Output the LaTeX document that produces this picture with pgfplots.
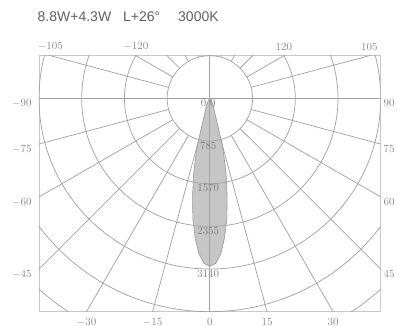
\documentclass[border=0pt]{standalone}
\usepackage{pgfplots}
\pgfplotsset{compat=1.18}
\usepackage{pgfplotstable}
\usepackage{fontspec}
\newfontfamily\titlefont{Liberation Sans}
\definecolor{gridc}{HTML}{A4A4A4}
\definecolor{framec}{HTML}{C8C8C8}
\definecolor{labc}{HTML}{8A8A8A}
\definecolor{ringlab}{HTML}{777777}
\definecolor{titlec}{HTML}{606060}
\definecolor{lobefill}{HTML}{C6C6C6}
\definecolor{lobeline}{HTML}{969696}

% angle (deg, from downward vertical) and luminous intensity (cd)
\pgfplotstableread{
a I
-50 0
-40 20
-32 60
-28 110
-24 170
-20 230
-18 320
-17 420
-16 580
-15 820
-14 1050
-12 1440
-10 1830
-8 2240
-6 2580
-4 2870
-2 3040
0 3090
2 3040
4 2870
6 2580
8 2240
10 1830
12 1440
14 1050
15 820
16 580
17 420
18 320
20 230
24 170
28 110
32 60
40 20
50 0
}\lobe

\begin{document}
\begin{tikzpicture}
\path[use as bounding box] (0pt,0pt) rectangle (397pt,326pt);
\begin{axis}[
  at={(39pt,14.3pt)}, anchor=south west,
  scale only axis, width=341.7pt, height=256pt,
  xmin=-3140, xmax=3140, ymin=-3925, ymax=785,
  ticks=none,
  axis line style={draw=framec, line width=0.9pt},
  clip=true,
]
\addplot[fill=lobefill, draw=lobeline, line width=0.6pt]
  table[x expr={\thisrow{I}*sin(\thisrow{a})}, y expr={-\thisrow{I}*cos(\thisrow{a})}] {\lobe};
% radial lines
\pgfplotsinvokeforeach{15,30,45,60,75,105,120,135,150,165,195,210,225,240,255,285,300,315,330,345}{
  \draw[gridc, line width=0.75pt] (axis cs:{785*sin(#1)},{-785*cos(#1)}) -- (axis cs:{8000*sin(#1)},{-8000*cos(#1)});
}
\draw[gridc, line width=0.75pt] (axis cs:0,-8000) -- (axis cs:0,8000);
\draw[gridc, line width=0.75pt] (axis cs:-8000,0) -- (axis cs:8000,0);
% rings
\pgfplotsinvokeforeach{785,1570,2355,3140,3925,4710}{
  \draw[gridc, line width=0.75pt] (axis cs:0,0) circle[radius=#1];
}
% ring labels
\node[anchor=north, inner sep=0.5pt, text=ringlab, font=\fontsize{11}{12}\selectfont] at (axis cs:-30,0) {0\hspace{4pt}0};
\node[anchor=north, inner sep=0.5pt, text=ringlab, font=\fontsize{11}{12}\selectfont] at (axis cs:-30,-785) {785};
\node[anchor=north, inner sep=0.5pt, text=ringlab, font=\fontsize{11}{12}\selectfont] at (axis cs:-30,-1570) {1570};
\node[anchor=north, inner sep=0.5pt, text=ringlab, font=\fontsize{11}{12}\selectfont] at (axis cs:-30,-2355) {2355};
\node[anchor=north, inner sep=0.5pt, text=ringlab, font=\fontsize{11}{12}\selectfont] at (axis cs:-30,-3140) {3140};
% anchor coordinates for edge labels
\coordinate (L90) at (axis cs:-3140,0);
\coordinate (L75) at (axis cs:-3140,-841);
\coordinate (L60) at (axis cs:-3140,-1813);
\coordinate (L45) at (axis cs:-3140,-3140);
\coordinate (R90) at (axis cs:3140,0);
\coordinate (R75) at (axis cs:3140,-841);
\coordinate (R60) at (axis cs:3140,-1813);
\coordinate (R45) at (axis cs:3140,-3140);
\coordinate (T105m) at (axis cs:-2930,785);
\coordinate (T120m) at (axis cs:-1360,785);
\coordinate (T120) at (axis cs:1360,785);
\coordinate (T105) at (axis cs:2930,785);
\coordinate (B30m) at (axis cs:-2266,-3925);
\coordinate (B15m) at (axis cs:-1052,-3925);
\coordinate (B0) at (axis cs:0,-3925);
\coordinate (B15) at (axis cs:1052,-3925);
\coordinate (B30) at (axis cs:2266,-3925);
\end{axis}
\tikzset{lab/.style={text=labc, inner sep=0pt, font=\fontsize{10.5}{12}\selectfont}}
\foreach \n/\t in {L90/90,L75/75,L60/60,L45/45}{
  \node[lab, anchor=north east] at ([xshift=-7.3pt,yshift=-1pt]\n) {$-\t$};
}
\foreach \n/\t in {R90/90,R75/75,R60/60,R45/45}{
  \node[lab, anchor=north west] at ([xshift=2.8pt,yshift=-1pt]\n) {$\t$};
}
\foreach \n/\t in {T105m/-105,T120m/-120,T120/120,T105/105}{
  \node[lab, anchor=south] at ([yshift=5pt]\n) {$\t$};
}
\foreach \n/\t in {B30m/-30,B15m/-15,B0/0,B15/15,B30/30}{
  \node[lab, anchor=north] at ([yshift=-6.3pt]\n) {$\t$};
}
\node[anchor=base west, inner sep=0pt, text=titlec, font=\titlefont\fontsize{14}{16}\selectfont] at (37.5pt,304.3pt) {8.8W+4.3W};
\node[anchor=base west, inner sep=0pt, text=titlec, font=\titlefont\fontsize{14}{16}\selectfont] at (123pt,304.3pt) {L+26°};
\node[anchor=base west, inner sep=0pt, text=titlec, font=\titlefont\fontsize{14}{16}\selectfont] at (178pt,304.3pt) {3000K};
\end{tikzpicture}
\end{document}
